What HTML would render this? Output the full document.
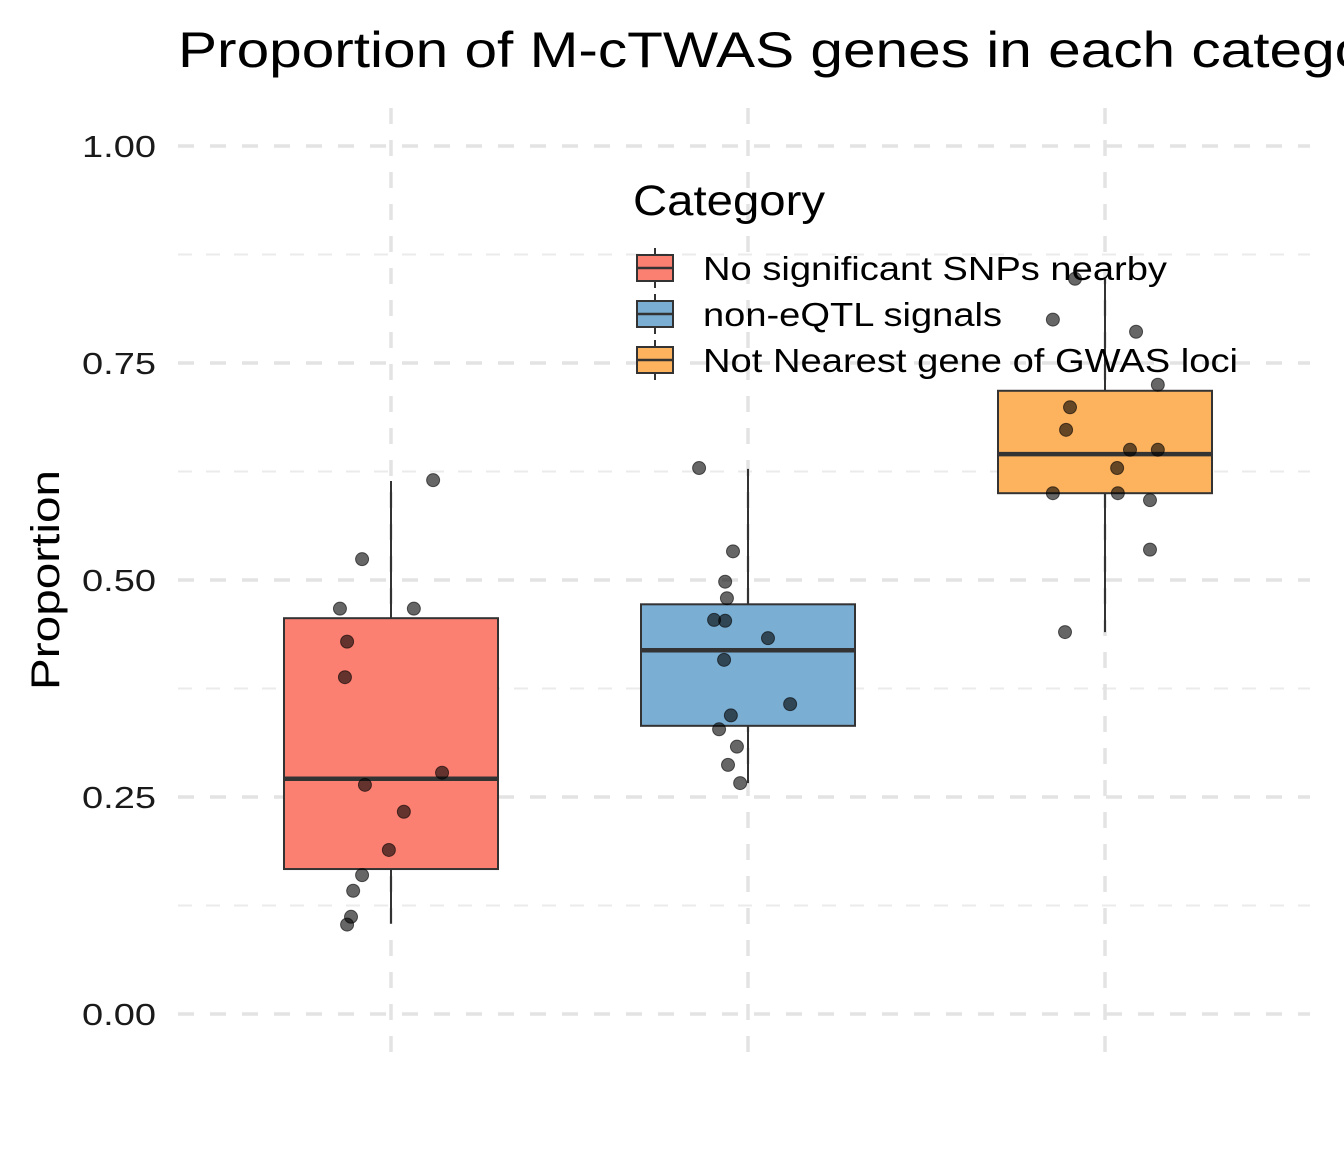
<!DOCTYPE html>
<html><head><meta charset="utf-8"><style>
html,body{margin:0;padding:0;background:#fff;}
svg text{font-family:"Liberation Sans",Arial,sans-serif;}
</style></head><body>
<svg id="chart" width="1344" height="1152" xmlns="http://www.w3.org/2000/svg">
<text x="178" y="67" font-size="50" textLength="1238" lengthAdjust="spacingAndGlyphs" fill="#000">Proportion of M-cTWAS genes in each category</text>
<text transform="translate(59,580) rotate(-90)" font-size="40" text-anchor="middle" textLength="220" lengthAdjust="spacingAndGlyphs" fill="#000">Proportion</text>
<g id="grid"></g><g id="yticks"></g><g id="boxes"></g><g id="points"></g>
<g>
<text x="633" y="215" font-size="43" textLength="192" lengthAdjust="spacingAndGlyphs">Category</text>
<g id="legend"></g>
</g>
</svg>
<script>
const categories = ["No significant SNPs nearby","non-eQTL signals","Not Nearest gene of GWAS loci"];
const fills = ["#FC8072","#7AAED3","#FDB25E"];
const yTicks = [0,0.25,0.5,0.75,1.0];
const yTickLabels = ["0.00","0.25","0.50","0.75","1.00"];
const boxLow = [0.104,0.266,0.440];
const boxQ1 = [0.167,0.332,0.600];
const boxMed = [0.271,0.419,0.645];
const boxQ3 = [0.456,0.472,0.718];
const boxHigh = [0.614,0.628,0.847];
const pts1 = [0.615,0.524,0.467,0.467,0.429,0.388,0.278,0.264,0.233,0.189,0.160,0.142,0.112,0.103];
const jit1 = [0.118,-0.081,-0.143,0.064,-0.123,-0.129,0.143,-0.073,0.036,-0.006,-0.081,-0.106,-0.112,-0.123];
const pts2 = [0.629,0.533,0.498,0.479,0.454,0.453,0.433,0.408,0.357,0.344,0.328,0.308,0.287,0.266];
const jit2 = [-0.137,-0.042,-0.064,-0.059,-0.095,-0.064,0.056,-0.067,0.118,-0.048,-0.081,-0.031,-0.056,-0.022];
const pts3 = [0.847,0.800,0.786,0.725,0.699,0.673,0.650,0.650,0.629,0.600,0.600,0.592,0.535,0.440];
const jit3 = [-0.084,-0.146,0.087,0.148,-0.098,-0.109,0.070,0.148,0.034,-0.146,0.036,0.126,0.126,-0.112];
const legendTextLen = [464,299,535];

const NS="http://www.w3.org/2000/svg";
const y = v => 1014 - v*868;
const x = i => 391 + i*357;
const bw = 214;
function mk(tag, attrs, parent){const e=document.createElementNS(NS,tag);for(const k in attrs)e.setAttribute(k,attrs[k]);parent.appendChild(e);return e;}
const grid=document.getElementById('grid');
for(let v=0.125; v<1; v+=0.25){
  const l=mk('line',{x1:178,x2:1310,y1:y(v),y2:y(v),stroke:'#ebebeb','stroke-width':2,'stroke-dasharray':'14 14'},grid);
  
  
}
yTicks.forEach((v,i)=>{
  const l=mk('line',{x1:178,x2:1310,y1:y(v),y2:y(v),stroke:'#e3e3e3','stroke-width':3.5,'stroke-dasharray':'16 16'},grid);
  
  
  const t=mk('text',{x:82,y:y(v)+11,'font-size':31,textLength:74,lengthAdjust:'spacingAndGlyphs',fill:'#1a1a1a'},document.getElementById('yticks'));
  t.textContent=yTickLabels[i];
  
  
});
categories.forEach((c,i)=>{
  const l=mk('line',{x1:x(i),x2:x(i),y1:108,y2:1060,stroke:'#e3e3e3','stroke-width':3.5,'stroke-dasharray':'16 16'},grid);
  
  
});
const boxes=document.getElementById('boxes');
categories.forEach((c,i)=>{
  const g=mk('g',{},boxes);
  
  
  mk('line',{x1:x(i),x2:x(i),y1:y(boxHigh[i]),y2:y(boxQ3[i]),stroke:'#333','stroke-width':2},g);
  mk('line',{x1:x(i),x2:x(i),y1:y(boxQ1[i]),y2:y(boxLow[i]),stroke:'#333','stroke-width':2},g);
  mk('rect',{x:x(i)-bw/2,y:y(boxQ3[i]),width:bw,height:y(boxQ1[i])-y(boxQ3[i]),fill:fills[i],stroke:'#333','stroke-width':2},g);
  mk('line',{x1:x(i)-bw/2,x2:x(i)+bw/2,y1:y(boxMed[i]),y2:y(boxMed[i]),stroke:'#333','stroke-width':4.5},g);
});
const pg=document.getElementById('points');
[[pts1,jit1],[pts2,jit2],[pts3,jit3]].forEach(([p,j],i)=>{
  p.forEach((v,k)=>{
    const c=mk('circle',{cx:x(i+j[k]),cy:y(v),r:6.5,fill:'#000','fill-opacity':0.6,stroke:'#000','stroke-opacity':0.6},pg);
    
    
  });
});
const lg=document.getElementById('legend');
categories.forEach((c,i)=>{
  const cy=268+i*46;
  const g=mk('g',{},lg);
  
  
  mk('line',{x1:655,x2:655,y1:cy-20,y2:cy+20,stroke:'#333','stroke-width':2},g);
  mk('rect',{x:637,y:cy-13,width:36,height:26,fill:fills[i],stroke:'#333','stroke-width':2},g);
  mk('line',{x1:637,x2:673,y1:cy,y2:cy,stroke:'#333','stroke-width':2.5},g);
  const t=mk('text',{x:703,y:cy+12,'font-size':33,textLength:legendTextLen[i],lengthAdjust:'spacingAndGlyphs',fill:'#000'},g);
  t.textContent=c;
});
</script>
</body></html>
